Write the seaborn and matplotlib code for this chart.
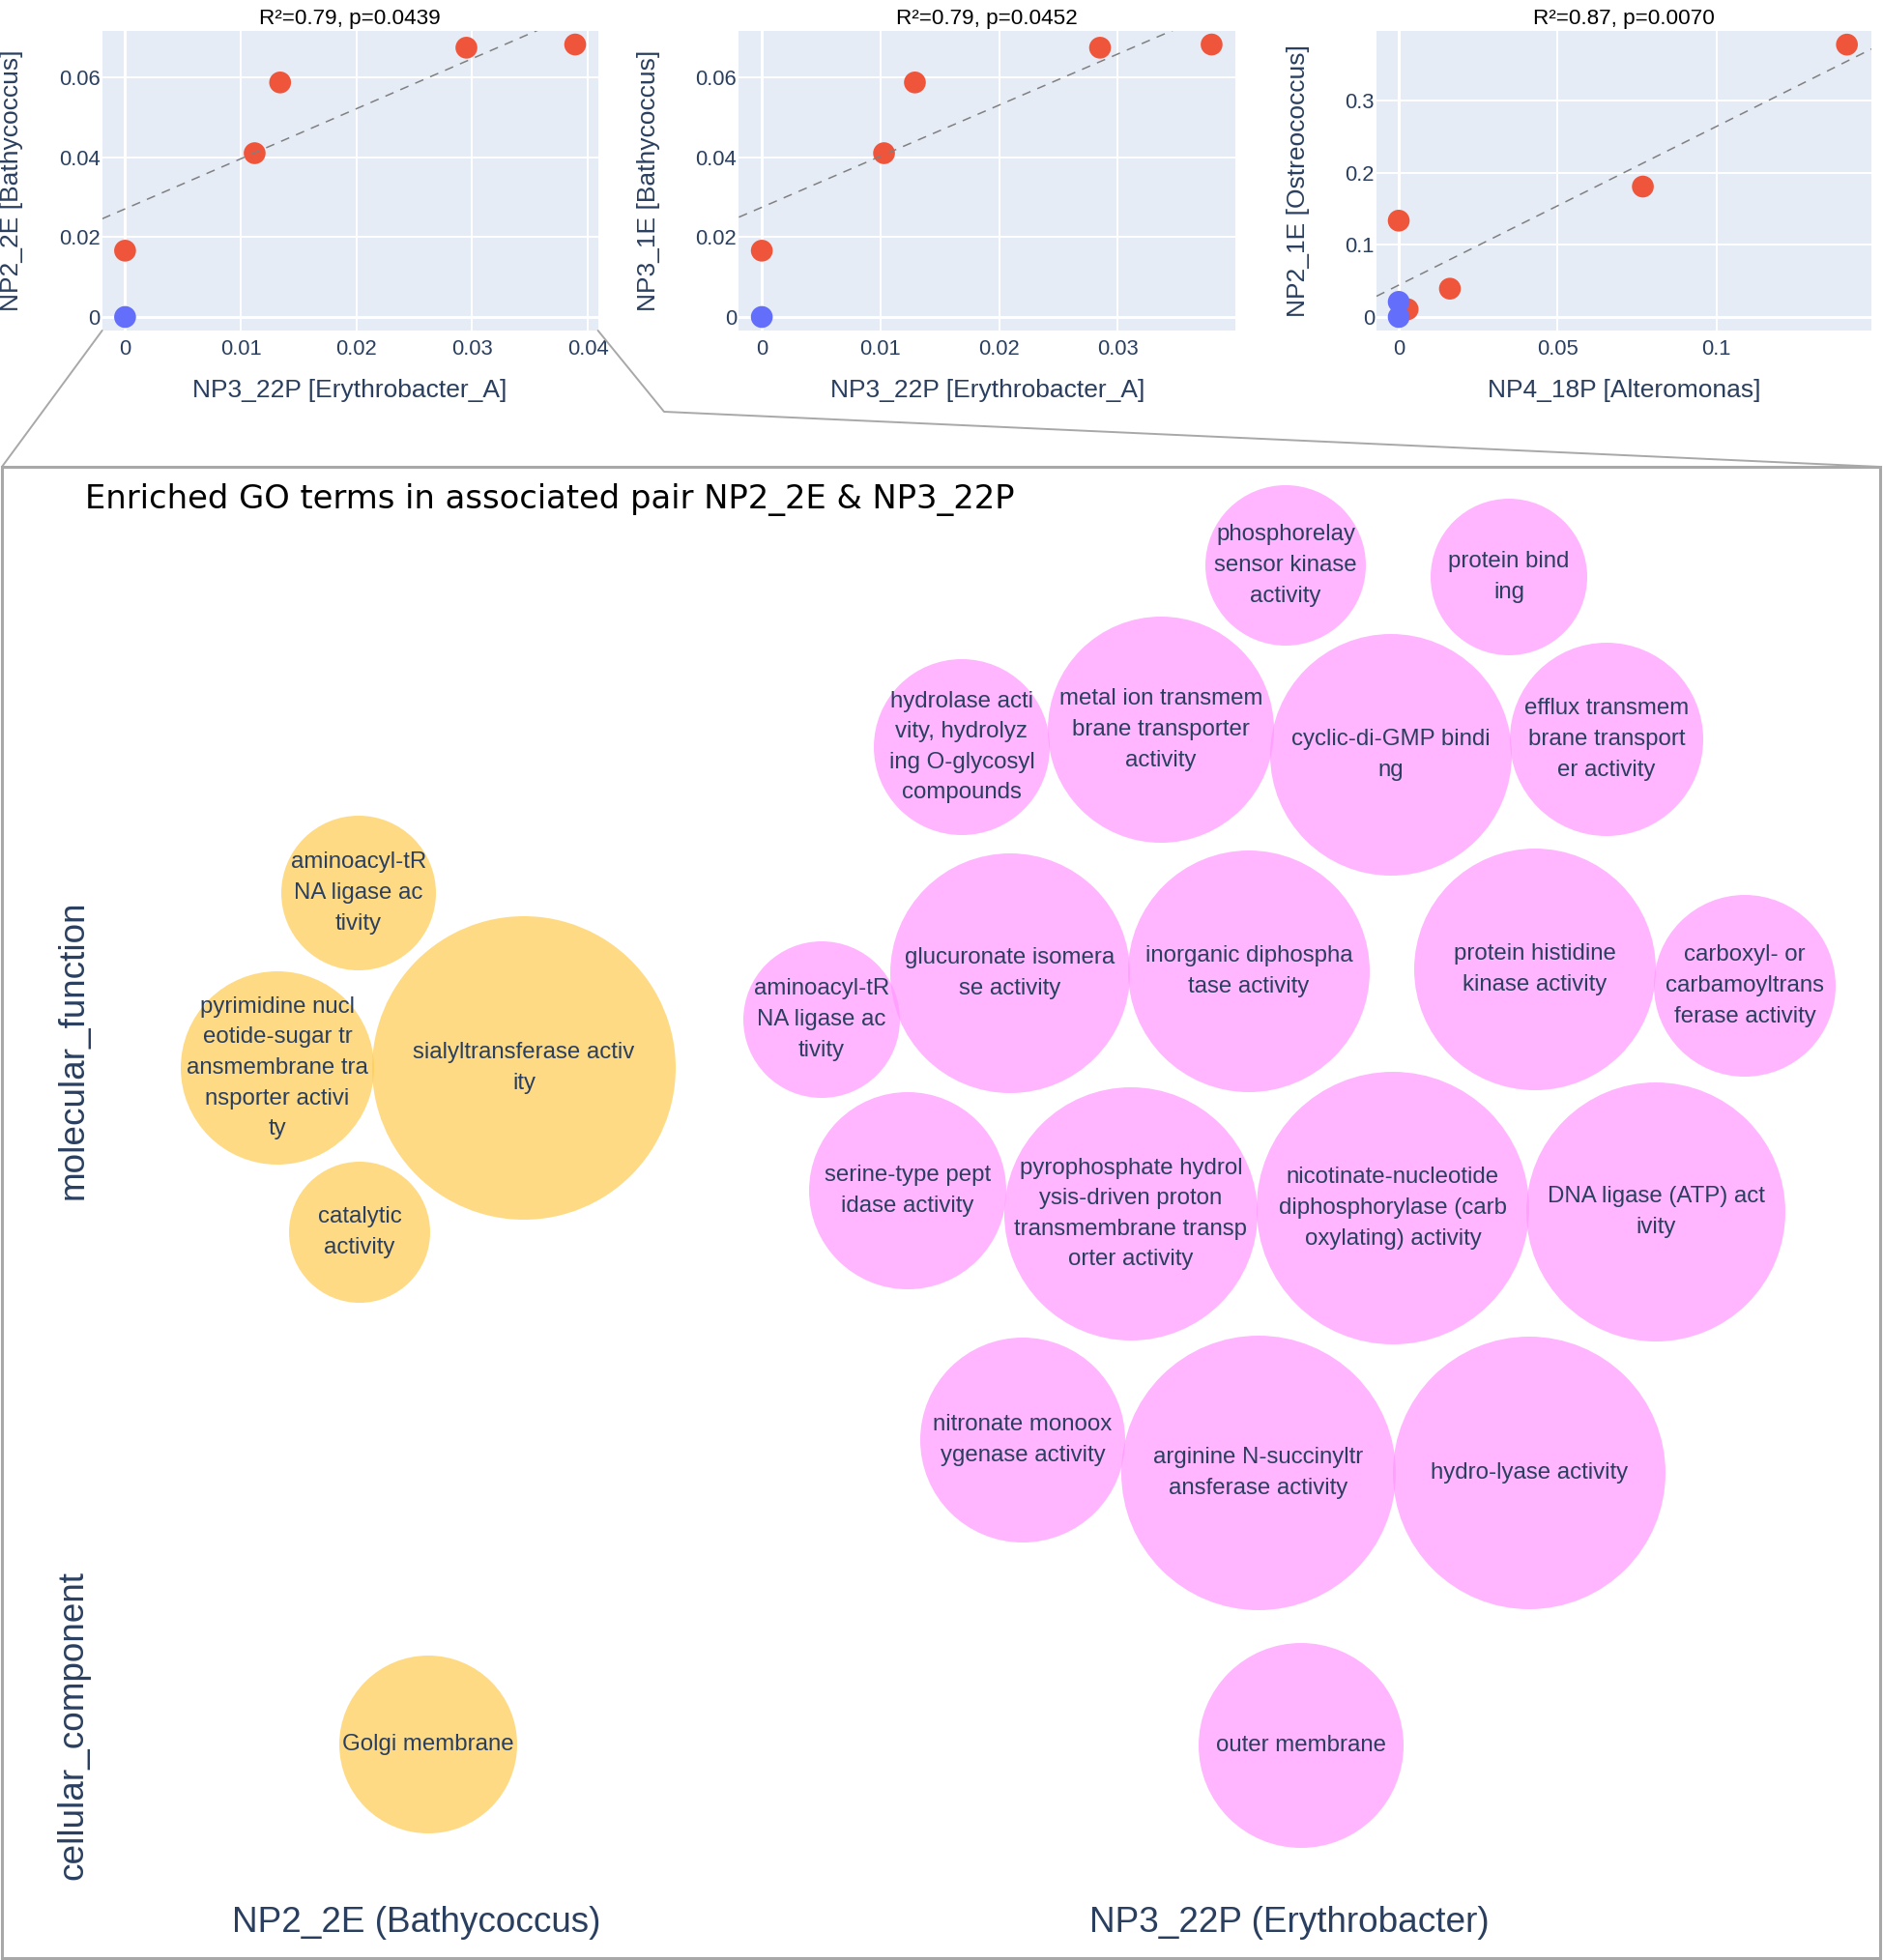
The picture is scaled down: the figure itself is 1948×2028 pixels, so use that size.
import numpy as np
import matplotlib
matplotlib.use('Agg')
import matplotlib.pyplot as plt
from matplotlib.patches import Circle, Rectangle
from matplotlib.lines import Line2D
import seaborn as sns

# ---- top row: associated pairs ----
pair_titles = ['R²=0.79, p=0.0439', 'R²=0.79, p=0.0452', 'R²=0.87, p=0.0070']
pair_xlabels = ['NP3_22P [Erythrobacter_A]', 'NP3_22P [Erythrobacter_A]', 'NP4_18P [Alteromonas]']
pair_ylabels = ['NP2_2E [Bathycoccus]', 'NP3_1E [Bathycoccus]', 'NP2_1E [Ostreococcus]']

erythro_a_p1 = [0, 0.0112, 0.0134, 0.0295, 0.0389]
bathy_2e = [0.0166, 0.0410, 0.0587, 0.0674, 0.0682]
erythro_a_p2 = [0, 0.0103, 0.0129, 0.0285, 0.0379]
bathy_1e = [0.0166, 0.0410, 0.0587, 0.0674, 0.0682]
altero_18p = [0.0028, 0, 0.0161, 0.0768, 0.141]
ostreo_1e = [0.0107, 0.1337, 0.0393, 0.181, 0.378]
# samples where both taxa are absent (blue)
absent_x = [[0], [0], [0, 0]]
absent_y = [[0], [0], [0, 0.021]]

present_x = [erythro_a_p1, erythro_a_p2, altero_18p]
present_y = [bathy_2e, bathy_1e, ostreo_1e]

pair_xticks = [[0, 0.01, 0.02, 0.03, 0.04], [0, 0.01, 0.02, 0.03], [0, 0.05, 0.1]]
pair_yticks = [[0, 0.02, 0.04, 0.06], [0, 0.02, 0.04, 0.06], [0, 0.1, 0.2, 0.3]]
pair_xlims = [(-0.00198, 0.04087), (-0.00193, 0.0399), (-0.007, 0.1487)]
pair_ylims = [(-0.00339, 0.0716), (-0.00339, 0.0716), (-0.0188, 0.397)]

# ---- bottom: enriched GO terms (packed bubbles) ----
go_title = 'Enriched GO terms in associated pair NP2_2E & NP3_22P'
taxa = ['NP2_2E (Bathycoccus)', 'NP3_22P (Erythrobacter)']
namespaces = ['molecular_function', 'cellular_component']

go_terms = [
    'aminoacyl-tR\nNA ligase ac\ntivity',
    'pyrimidine nucl\neotide-sugar tr\nansmembrane tra\nnsporter activi\nty',
    'sialyltransferase activ\nity',
    'catalytic\nactivity',
    'Golgi membrane',
    'phosphorelay\nsensor kinase\nactivity',
    'protein bind\ning',
    'hydrolase acti\nvity, hydrolyz\ning O-glycosyl\ncompounds',
    'metal ion transmem\nbrane transporter\nactivity',
    'cyclic-di-GMP bindi\nng',
    'efflux transmem\nbrane transport\ner activity',
    'aminoacyl-tR\nNA ligase ac\ntivity',
    'glucuronate isomera\nse activity',
    'inorganic diphospha\ntase activity',
    'protein histidine\nkinase activity',
    'carboxyl- or\ncarbamoyltrans\nferase activity',
    'serine-type pept\nidase activity',
    'pyrophosphate hydrol\nysis-driven proton\ntransmembrane transp\norter activity',
    'nicotinate-nucleotide\ndiphosphorylase (carb\noxylating) activity',
    'DNA ligase (ATP) act\nivity',
    'nitronate monoox\nygenase activity',
    'arginine N-succinyltr\nansferase activity',
    'hydro-lyase activity',
    'outer membrane',
]
go_taxon = [0, 0, 0, 0, 0] + [1] * 19
go_x = [371, 287, 542, 372, 443,
        1330, 1561, 995, 1201, 1439, 1662,
        850, 1045, 1292, 1588, 1805,
        939, 1170, 1441, 1713,
        1058, 1302, 1582, 1346]
go_y = [924, 1105, 1105, 1275, 1805,
        585, 597, 773, 755, 781, 765,
        1055, 1007, 1005, 1003, 1020,
        1232, 1256, 1250, 1254,
        1490, 1524, 1524, 1806]
go_r = [80, 100, 157, 73, 92,
        83, 81, 91, 117, 125, 100,
        81, 124, 125, 125, 94,
        102, 131, 141, 134,
        106, 142, 141, 106]
taxon_pos = [431, 1334]
namespace_pos = [1086, 1785]

W, H = 1948, 2028
FONT = 'Liberation Sans'
TXT = '#2a3f5f'
taxon_colors = ['#FECB52', '#FF97FF']

sns.set_style('white')
plt.rcParams['font.family'] = [FONT, 'DejaVu Sans']

fig = plt.figure(figsize=(W / 100, H / 100), dpi=100)


def px_axes(l, t, r, b):
    return fig.add_axes([l / W, 1 - b / H, (r - l) / W, (b - t) / H])


pair_left = [105.7, 764.4, 1424]
pair_right = [618.6, 1278, 1936]
ylab_x = [12, 671, 1343]
top, bottom = 32, 342

for i in range(3):
    ax = px_axes(pair_left[i], top, pair_right[i], bottom)
    ax.set_facecolor('#E5ECF6')
    for s in ax.spines.values():
        s.set_visible(False)
    ax.set_xlim(pair_xlims[i])
    ax.set_ylim(pair_ylims[i])
    ax.set_xticks(pair_xticks[i])
    ax.set_yticks(pair_yticks[i])
    ax.set_xticklabels(['{:g}'.format(v) for v in pair_xticks[i]])
    ax.set_yticklabels(['{:g}'.format(v) for v in pair_yticks[i]])
    ax.grid(True, color='white', lw=1.4)
    ax.axhline(0, color='white', lw=2.2, zorder=1)
    ax.axvline(0, color='white', lw=2.2, zorder=1)
    ax.set_axisbelow(True)
    ax.tick_params(length=0, labelsize=15.8, labelcolor=TXT)
    ax.tick_params(axis='x', pad=6.5)
    ax.tick_params(axis='y', pad=1.5)

    sns.scatterplot(x=present_x[i], y=present_y[i], color='#EF553B', s=265,
                    edgecolor='none', ax=ax, zorder=3)
    sns.scatterplot(x=absent_x[i], y=absent_y[i], color='#636EFA', s=265,
                    edgecolor='none', ax=ax, zorder=4)

    # least-squares fit on the samples where both are present
    slope, icpt = np.polyfit(present_x[i], present_y[i], 1)
    xx = np.array(pair_xlims[i])
    ax.plot(xx, slope * xx + icpt, color='#808080', lw=1.1, ls=(0, (6, 5)), zorder=5)

    ax.set_title(pair_titles[i], fontsize=16.2, color='black', pad=5)
    ax.set_xlabel(pair_xlabels[i], fontsize=19, color=TXT)
    ax.set_ylabel(pair_ylabels[i], fontsize=19, color=TXT)
    ax.xaxis.label.set_va('center')
    ax.yaxis.label.set_va('center')
    ax.xaxis.set_label_coords(0.5, -(404 - bottom) / (bottom - top))
    ax.yaxis.set_label_coords((ylab_x[i] - pair_left[i]) / (pair_right[i] - pair_left[i]), 0.5)

# zoom connectors and the frame around the GO panel
box_col = '#a8a8a8'
fig.add_artist(Line2D([105.7 / W, 2 / W], [1 - 342 / H, 1 - 483 / H],
                      transform=fig.transFigure, color=box_col, lw=1.4))
fig.add_artist(Line2D([618.6 / W, 687 / W, 1945 / W], [1 - 342 / H, 1 - 426 / H, 1 - 483 / H],
                      transform=fig.transFigure, color=box_col, lw=1.4))
fig.add_artist(Rectangle((2 / W, 2 / H), 1943 / W, 1543 / H, transform=fig.transFigure,
                         fill=False, ec=box_col, lw=2.2))

bx = px_axes(110, 490, 1940, 1950)
bx.set_xlim(110, 1940)
bx.set_ylim(1950, 490)
bx.set_aspect('equal')
for s in bx.spines.values():
    s.set_visible(False)
bx.set_facecolor('none')

for x, y, r, lab, t in zip(go_x, go_y, go_r, go_terms, go_taxon):
    bx.add_patch(Circle((x, y), r, facecolor=taxon_colors[t], edgecolor='none', alpha=0.7))
    bx.text(x, y, lab, ha='center', va='center', multialignment='center',
            fontsize=17.3, color=TXT, linespacing=1.56)

bx.set_xticks(taxon_pos)
bx.set_xticklabels(taxa)
bx.set_yticks(namespace_pos)
bx.set_yticklabels(namespaces)
bx.tick_params(length=0, labelsize=26.6, labelcolor=TXT)
bx.tick_params(axis='x', pad=16)
bx.tick_params(axis='y', pad=12)
for lab in bx.get_yticklabels():
    lab.set_rotation(90)
    lab.set_va('center')

fig.text(88 / W, 1 - 517 / H, go_title, ha='left', va='center',
         fontsize=24.3, color='black', family='DejaVu Sans')

fig.savefig('out.png', dpi=100)
